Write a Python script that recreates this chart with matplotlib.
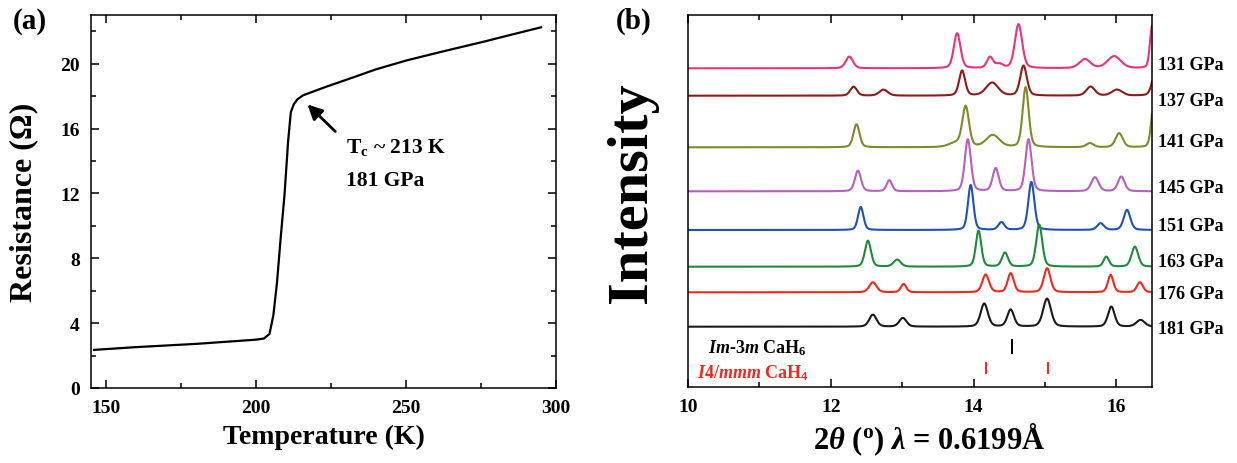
import numpy as np
import matplotlib
matplotlib.use('Agg')
import matplotlib.pyplot as plt
from matplotlib.ticker import MultipleLocator

plt.rcParams['font.family'] = ['Liberation Serif', 'DejaVu Serif']
plt.rcParams['font.weight'] = 'bold'
plt.rcParams['mathtext.fontset'] = 'custom'
plt.rcParams['mathtext.rm'] = 'Liberation Serif:bold'
plt.rcParams['mathtext.it'] = 'Liberation Serif:italic:bold'
plt.rcParams['mathtext.bf'] = 'Liberation Serif:bold'

# (a) resistance vs temperature
temp = [146.0, 160, 180, 200, 202.6, 204.5, 205.8, 207.0, 208.2, 209.5,
        210.7, 211.6, 212.6, 213.8, 215.7, 223, 231.1, 240, 250.2, 262, 275.8, 285, 295.0]
resist = [2.35, 2.52, 2.72, 2.98, 3.05, 3.33, 4.5, 6.5, 9.2, 11.9,
          15.2, 17.0, 17.5, 17.8, 18.05, 18.55, 19.07, 19.65, 20.2, 20.74, 21.35, 21.78, 22.24]

# (b) XRD patterns: pressure label, baseline offset, colour, peaks (2theta, height, fwhm)
pressures = ['131 GPa', '137 GPa', '141 GPa', '145 GPa', '151 GPa', '163 GPa', '176 GPa', '181 GPa']
offsets = [319.0, 291.6, 240.0, 196.0, 157.3, 120.6, 95.0, 60.6]
label_y = [323.3, 287.3, 245.6, 200.0, 161.6, 125.6, 93.3, 59.0]
colors = ['#E8347F', '#8B1C1C', '#808A2B', '#B660C0', '#1F52B5', '#1F8A3C', '#EE2A1E', '#1A1A1A']
peaks = [
    [(12.26, 11.7, 0.12), (13.77, 35, 0.11), (14.23, 11, 0.10), (14.36, 4, 0.12),
     (14.63, 44, 0.12), (15.56, 9, 0.18), (15.97, 12, 0.22), (16.50, 42, 0.07)],
    [(12.32, 9, 0.11), (12.74, 6, 0.14), (13.84, 25, 0.10), (14.26, 13, 0.20),
     (14.70, 30, 0.11), (15.64, 9, 0.14), (16.01, 6, 0.17), (16.55, 25, 0.11)],
    [(12.36, 23, 0.10), (13.75, 4, 0.22), (13.89, 40, 0.11), (14.27, 12, 0.22),
     (14.73, 60, 0.10), (15.63, 4, 0.12), (16.04, 14, 0.12), (16.52, 40, 0.08)],
    [(12.38, 20.7, 0.10), (12.82, 11, 0.09), (13.92, 52, 0.10), (14.31, 23, 0.10),
     (14.77, 52, 0.10), (15.70, 14, 0.12), (16.07, 14.7, 0.11)],
    [(12.42, 23, 0.09), (13.96, 45, 0.09), (14.39, 7.7, 0.10), (14.81, 48, 0.10),
     (15.78, 6.7, 0.11), (16.15, 20, 0.11)],
    [(12.52, 26, 0.10), (12.93, 7, 0.12), (14.07, 36, 0.09), (14.44, 14, 0.10),
     (14.92, 42, 0.10), (15.86, 10, 0.09), (16.26, 20, 0.11)],
    [(12.59, 10, 0.12), (13.02, 8.3, 0.09), (14.17, 17.7, 0.11), (14.52, 19, 0.10),
     (15.03, 24, 0.11), (15.92, 17.3, 0.09), (16.33, 10, 0.10)],
    [(12.59, 12, 0.12), (13.01, 8.7, 0.12), (14.15, 23, 0.12), (14.52, 17, 0.11),
     (15.03, 28, 0.13), (15.93, 20, 0.11), (16.34, 6.7, 0.14)],
]
cah6_ticks = [14.54]
cah4_ticks = [14.18, 15.04]


def profile(x, plist):
    y = np.zeros_like(x)
    for c, h, w in plist:
        g = np.exp(-4 * np.log(2) * ((x - c) / w) ** 2)
        l = 1 / (1 + 4 * ((x - c) / w) ** 2)
        y += h * (0.7 * g + 0.3 * l)
    return y


fig = plt.figure(figsize=(12.37, 4.64), dpi=100)

# ---- panel (a)
ax1 = fig.add_axes([91 / 1237, 1 - 389 / 464, 465 / 1237, 373 / 464])
ax1.plot(temp, resist, color='black', lw=1.6)
ax1.set_xlim(145, 300)
ax1.set_ylim(0, 23)
ax1.xaxis.set_major_locator(MultipleLocator(50))
ax1.xaxis.set_minor_locator(MultipleLocator(25))
ax1.yaxis.set_major_locator(MultipleLocator(4))
ax1.yaxis.set_minor_locator(MultipleLocator(2))
ax1.tick_params(which='both', direction='in', top=True, right=True, labelsize=14, pad=8, width=1.1)
ax1.tick_params(which='major', length=6)
ax1.tick_params(which='minor', length=3.5)
ax1.set_xlabel('Temperature (K)', fontsize=20, fontweight='bold')
ax1.set_ylabel('Resistance (\u03a9)', fontsize=23, fontweight='bold')
ax1.xaxis.set_label_coords(0.5, -0.131)
ax1.xaxis.label.set_va('center')
ax1.yaxis.set_label_coords(-0.144, 0.5)
ax1.yaxis.label.set_va('center')
ax1.annotate('', xy=(216.5, 17.6), xytext=(227.1, 15.7),
             arrowprops=dict(arrowstyle='-|>', color='black', lw=2, mutation_scale=22))
ax1.text(230, 14.9, r'T$_{\rm c}$ ~ 213 K', fontsize=15.5, va='center', fontweight='bold')
ax1.text(230, 12.8, '181 GPa', fontsize=15.5, va='center', fontweight='bold')
for s in ax1.spines.values():
    s.set_linewidth(1.1)

# ---- panel (b)
ax2 = fig.add_axes([688 / 1237, 1 - 388.3 / 464, 464 / 1237, 372.3 / 464])
x = np.linspace(10, 16.5, 1500)
for p, off, ly, col, pl in zip(pressures, offsets, label_y, colors, peaks):
    ax2.plot(x, off + profile(x, pl), color=col, lw=1.5)
    ax2.text(1.012, ly, p, transform=ax2.get_yaxis_transform(), fontsize=13,
             va='center', ha='left', fontweight='bold')
ax2.vlines(cah6_ticks, 33.3, 48.3, color='black', lw=1.4)
ax2.vlines(cah4_ticks, 13, 25.6, color='#EE2A1E', lw=1.4)
ax2.text(10.28, 40.3, r'$\mathit{Im}$-$\mathit{3m}$ CaH$_{\rm 6}$', fontsize=13,
         va='center', color='black', fontweight='bold')
ax2.text(10.13, 15.3, r'$\mathit{I4/mmm}$ CaH$_{\rm 4}$', fontsize=13,
         va='center', color='#EE2A1E', fontweight='bold')
ax2.set_xlim(10, 16.5)
ax2.set_ylim(0, 372.3)
ax2.xaxis.set_major_locator(MultipleLocator(2))
ax2.xaxis.set_minor_locator(MultipleLocator(1))
ax2.tick_params(axis='x', which='both', direction='in', top=True, labelsize=14, pad=8, width=1.1)
ax2.tick_params(axis='x', which='major', length=6)
ax2.tick_params(axis='x', which='minor', length=3.5)
ax2.set_yticks([])
ax2.set_xlabel(r'2$\mathit{\theta}$ ($^{\rm o}$) $\mathit{\lambda}$ = 0.6199Å', fontsize=22, fontweight='bold')
ax2.xaxis.set_label_coords(0.52, -0.139)
ax2.xaxis.label.set_va('center')
for s in ax2.spines.values():
    s.set_linewidth(1.1)

fig.text(632 / 1237, 1 - 193 / 464, 'Intensity', rotation=90, fontsize=42,
         fontweight='bold', ha='center', va='center')
fig.text(13 / 1237, 1 - 21.5 / 464, '(a)', fontsize=21, fontweight='bold', va='center')
fig.text(616 / 1237, 1 - 21.5 / 464, '(b)', fontsize=21, fontweight='bold', va='center')

fig.savefig('out.png', dpi=100)
